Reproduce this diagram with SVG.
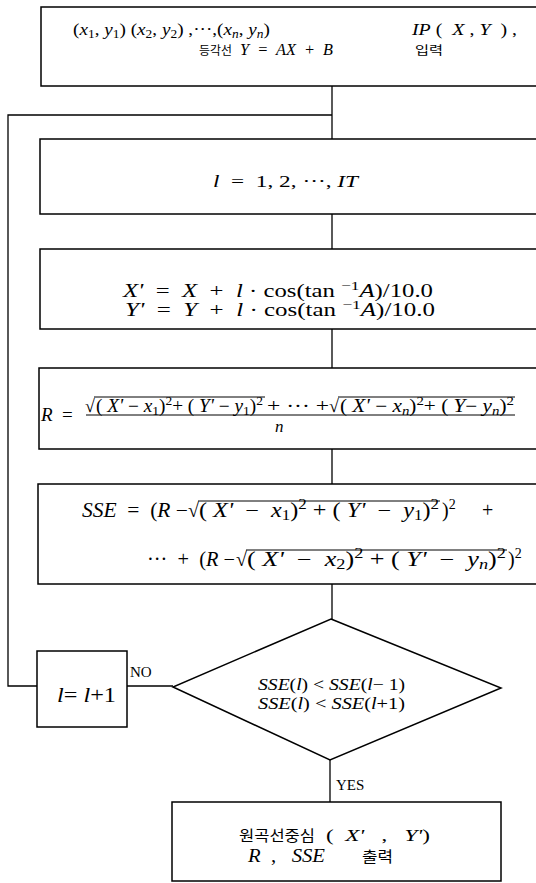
<svg xmlns="http://www.w3.org/2000/svg" width="536" height="883" viewBox="0 0 536 883">
<style>
text{white-space:pre}
.box{fill:#fff;stroke:#000;stroke-width:1.5}
.ln{fill:none;stroke:#000;stroke-width:1.3}
.bar{stroke:#000;stroke-width:1}
.m{font-family:"Liberation Serif",serif;fill:#000}
.k{font-family:"Noto Sans CJK KR",sans-serif;fill:#000}
.i{font-style:italic}
.sb{font-size:70%}
</style>
<rect width="536" height="883" fill="#fff"/>
<g id="connectors">
<line class="ln" x1="332" y1="86" x2="332" y2="139"/>
<line class="ln" x1="332" y1="214" x2="332" y2="249"/>
<line class="ln" x1="332" y1="329" x2="332" y2="368"/>
<line class="ln" x1="332" y1="449" x2="332" y2="484"/>
<line class="ln" x1="332" y1="584" x2="332" y2="619"/>
<line class="ln" x1="330" y1="760" x2="330" y2="802"/>
<polyline class="ln" points="37,686 8,686 8,115 332,115"/>
<line class="ln" x1="127" y1="686" x2="173" y2="686"/>
<text class="m" x="130" y="677" font-size="15">NO</text>
<text class="m" x="336" y="790" font-size="15">YES</text>
</g>
<g id="input">
<rect class="box" x="41" y="7" width="510" height="79"/>
<text class="m" x="73" y="35" font-size="17" textLength="197" lengthAdjust="spacingAndGlyphs">(<tspan class="i">x</tspan><tspan class="sb" dy="3">1</tspan><tspan dy="-3">, </tspan><tspan class="i">y</tspan><tspan class="sb" dy="3">1</tspan><tspan dy="-3">) (</tspan><tspan class="i">x</tspan><tspan class="sb" dy="3">2</tspan><tspan dy="-3">, </tspan><tspan class="i">y</tspan><tspan class="sb" dy="3">2</tspan><tspan dy="-3">) ,···,(</tspan><tspan class="i">x</tspan><tspan class="sb i" dy="3">n</tspan><tspan dy="-3">, </tspan><tspan class="i">y</tspan><tspan class="sb i" dy="3">n</tspan><tspan dy="-3">)</tspan></text>
<text class="m" x="412" y="35" font-size="17" textLength="105" lengthAdjust="spacingAndGlyphs"><tspan class="i">IP</tspan> (  <tspan class="i">X</tspan> , <tspan class="i">Y</tspan>  ) ,</text>
<text class="k" x="199" y="55" font-size="12" textLength="33" lengthAdjust="spacingAndGlyphs">등각선</text>
<text class="m i" x="240" y="55" font-size="17" textLength="93" lengthAdjust="spacingAndGlyphs">Y  =  AX  +  B</text>
<text class="k" x="415" y="55" font-size="12" textLength="28" lengthAdjust="spacingAndGlyphs">입력</text>
</g>
<g id="loop">
<rect class="box" x="40" y="139" width="510" height="75"/>
<text class="m" x="213" y="187" font-size="17" textLength="145" lengthAdjust="spacingAndGlyphs"><tspan class="i">l</tspan>  =  1, 2, ···, <tspan class="i">IT</tspan></text>
</g>
<g id="shift">
<rect class="box" x="40" y="249" width="510" height="80"/>
<text class="m" x="123" y="297" font-size="18" textLength="310" lengthAdjust="spacingAndGlyphs"><tspan class="i">X'</tspan>  =  <tspan class="i">X</tspan>  +  <tspan class="i">l</tspan> · cos(tan <tspan class="sb" dy="-7">−1</tspan><tspan class="i" dy="7">A</tspan>)/10.0</text>
<text class="m" x="125" y="316" font-size="18" textLength="310" lengthAdjust="spacingAndGlyphs"><tspan class="i">Y'</tspan>  =  <tspan class="i">Y</tspan>  +  <tspan class="i">l</tspan> · cos(tan <tspan class="sb" dy="-7">−1</tspan><tspan class="i" dy="7">A</tspan>)/10.0</text>
</g>
<g id="radius">
<rect class="box" x="39" y="368" width="510" height="81"/>
<text class="m i" x="41" y="421" font-size="19">R</text>
<text class="m" x="62" y="421" font-size="19">=</text>
<text class="m" x="85" y="412" font-size="18">√</text>
<text class="m" x="96" y="412" font-size="18" textLength="167" lengthAdjust="spacingAndGlyphs">( <tspan class="i">X'</tspan> − <tspan class="i">x</tspan><tspan class="sb" dy="3">1</tspan><tspan dy="-3">)</tspan><tspan class="sb" dy="-7">2</tspan><tspan dy="7">+ ( </tspan><tspan class="i">Y'</tspan> − <tspan class="i">y</tspan><tspan class="sb" dy="3">1</tspan><tspan dy="-3">)</tspan><tspan class="sb" dy="-7">2</tspan></text>
<text class="m" x="267" y="412" font-size="18" textLength="62" lengthAdjust="spacingAndGlyphs">+ ··· +</text>
<text class="m" x="329" y="412" font-size="18">√</text>
<text class="m" x="340" y="412" font-size="18" textLength="174" lengthAdjust="spacingAndGlyphs">( <tspan class="i">X'</tspan> − <tspan class="i">x</tspan><tspan class="sb i" dy="3">n</tspan><tspan dy="-3">)</tspan><tspan class="sb" dy="-7">2</tspan><tspan dy="7">+ ( </tspan><tspan class="i">Y</tspan>− <tspan class="i">y</tspan><tspan class="sb i" dy="3">n</tspan><tspan dy="-3">)</tspan><tspan class="sb" dy="-7">2</tspan></text>
<line class="bar" x1="94" y1="397" x2="265" y2="397"/>
<line class="bar" x1="338" y1="397" x2="515" y2="397"/>
<line class="bar" x1="86" y1="415" x2="515" y2="415"/>
<text class="m i" x="275" y="432" font-size="17">n</text>
</g>
<g id="sse">
<rect class="box" x="38" y="484" width="510" height="100"/>
<text class="m" x="82" y="517" font-size="20" textLength="106" lengthAdjust="spacingAndGlyphs"><tspan class="i">SSE</tspan>  =  (<tspan class="i">R</tspan> −</text>
<text class="m" x="188" y="517" font-size="20">√</text>
<text class="m" x="199" y="517" font-size="20" textLength="240" lengthAdjust="spacingAndGlyphs">( <tspan class="i">X'</tspan>  −  <tspan class="i">x</tspan><tspan class="sb" dy="3">1</tspan><tspan dy="-3">)</tspan><tspan class="sb" dy="-8">2</tspan><tspan dy="8"> + ( </tspan><tspan class="i">Y'</tspan>  −  <tspan class="i">y</tspan><tspan class="sb" dy="3">1</tspan><tspan dy="-3">)</tspan><tspan class="sb" dy="-8">2</tspan></text>
<line class="bar" x1="198" y1="501" x2="440" y2="501"/>
<text class="m" x="442" y="517" font-size="20">)<tspan class="sb" dy="-8">2</tspan></text>
<text class="m" x="482" y="517" font-size="20">+</text>
<text class="m" x="147" y="566" font-size="20" textLength="88" lengthAdjust="spacingAndGlyphs">···  +  (<tspan class="i">R</tspan> −</text>
<text class="m" x="236" y="566" font-size="20">√</text>
<text class="m" x="247" y="566" font-size="20" textLength="259" lengthAdjust="spacingAndGlyphs">( <tspan class="i">X'</tspan>  −  <tspan class="i">x</tspan><tspan class="sb" dy="3">2</tspan><tspan dy="-3">)</tspan><tspan class="sb" dy="-8">2</tspan><tspan dy="8"> + ( </tspan><tspan class="i">Y'</tspan>  −  <tspan class="i">y</tspan><tspan class="sb i" dy="3">n</tspan><tspan dy="-3">)</tspan><tspan class="sb" dy="-8">2</tspan></text>
<line class="bar" x1="246" y1="550" x2="507" y2="550"/>
<text class="m" x="508" y="566" font-size="20">)<tspan class="sb" dy="-8">2</tspan></text>
</g>
<g id="decision">
<polygon class="box" points="331,619 501,688 330,760 173,687"/>
<text class="m" x="258" y="690" font-size="16" textLength="147" lengthAdjust="spacingAndGlyphs"><tspan class="i">SSE</tspan>(<tspan class="i">l</tspan>) &lt; <tspan class="i">SSE</tspan>(<tspan class="i">l</tspan>− 1)</text>
<text class="m" x="258" y="709" font-size="16" textLength="147" lengthAdjust="spacingAndGlyphs"><tspan class="i">SSE</tspan>(<tspan class="i">l</tspan>) &lt; <tspan class="i">SSE</tspan>(<tspan class="i">l</tspan>+1)</text>
</g>
<g id="increment">
<rect class="box" x="37" y="651" width="90" height="76"/>
<text class="m" x="57" y="702" font-size="20" textLength="59" lengthAdjust="spacingAndGlyphs"><tspan class="i">l</tspan>= <tspan class="i">l</tspan>+1</text>
</g>
<g id="output">
<rect class="box" x="172" y="802" width="329" height="79"/>
<text class="k" x="239" y="841" font-size="15" textLength="76" lengthAdjust="spacingAndGlyphs">원곡선중심</text>
<text class="m" x="326" y="841" font-size="17" textLength="104" lengthAdjust="spacingAndGlyphs">(  <tspan class="i">X'</tspan>   ,   <tspan class="i">Y'</tspan>)</text>
<text class="m" x="248" y="862" font-size="18" textLength="77" lengthAdjust="spacingAndGlyphs"><tspan class="i">R</tspan>  ,   <tspan class="i">SSE</tspan></text>
<text class="k" x="362" y="862" font-size="15" textLength="31" lengthAdjust="spacingAndGlyphs">출력</text>
</g>
</svg>
